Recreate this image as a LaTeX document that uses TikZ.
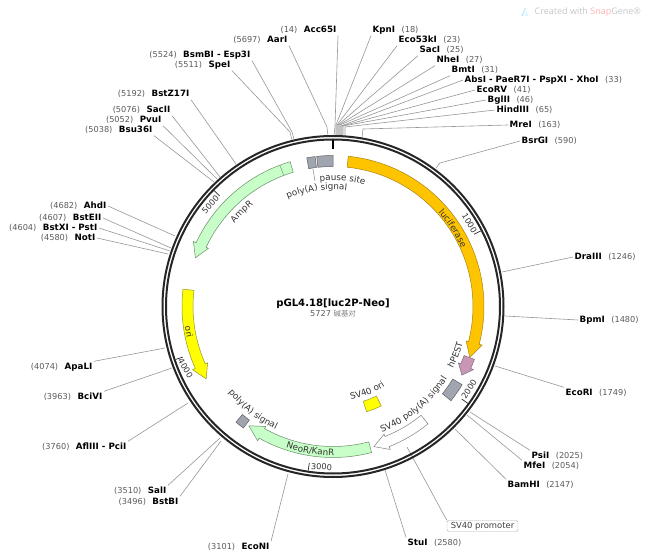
\documentclass[tikz,border=0pt]{standalone}
\usepackage{fontspec}
\setmainfont{DejaVu Sans}
\newfontfamily\cjkf{Noto Sans CJK SC}
\newfontfamily\markf{Open Sans}
\usetikzlibrary{decorations.text}
\definecolor{lucif}{RGB}{255,196,0}
\definecolor{lucifline}{RGB}{170,130,20}
\definecolor{oriyel}{RGB}{255,255,0}
\definecolor{oriline}{RGB}{150,150,40}
\definecolor{resist}{RGB}{200,255,200}
\definecolor{resistline}{RGB}{105,140,105}
\definecolor{pest}{RGB}{202,150,182}
\definecolor{pestline}{RGB}{120,110,120}
\definecolor{sigbox}{RGB}{160,165,176}
\definecolor{sigline}{RGB}{95,95,100}
\definecolor{cutline}{RGB}{150,150,150}
\definecolor{numgray}{RGB}{90,90,90}
\newcommand{\numf}{\fontsize{8.2}{9}\selectfont\color{numgray}}
\newcommand{\labf}{\fontsize{8.7}{9}\selectfont\bfseries}
\newcommand{\featf}{\fontsize{8.8}{9}\selectfont\color{black!80}}
\newcommand{\featarrow}[4]{\draw [#1] (#2:140) arc[start angle=#2,end angle=#3,radius=140] -- (#3:137.5) -- (#4:146) -- (#3:154) -- (#3:151) arc[start angle=#3,end angle=#2,radius=151] -- cycle;}
\newcommand{\featbox}[5]{\draw [#1] (#2:#4) arc[start angle=#2,end angle=#3,radius=#4] -- (#3:#5) arc[start angle=#3,end angle=#2,radius=#5] -- cycle;}
\newcommand{\arctext}[4]{\path [decorate,decoration={text along path,text align=center,text={|\featf|#4}}] (#1:#3) arc[start angle=#1,end angle=#2,radius=#3];}
\tikzset{
  cutlabel/.style={inner sep=1.5pt,text height=6.5pt,text depth=1.5pt},
  cutwire/.style={cutline,line width=0.6pt},
  ticklabel/.style={inner sep=0pt,font=\fontsize{8.2}{9}\selectfont,text=black!80},
  greenfeat/.style={fill=resist,draw=resistline,line width=0.5pt},
  greyfeat/.style={fill=sigbox,draw=sigline,line width=0.5pt},
}
\begin{document}
\begin{tikzpicture}[x=1pt,y=-1pt]
\useasboundingbox (0,0) rectangle (649,559);
\foreach \nm/\lx/\ly/\st/\ex/\ey/\rx/\ry/\txt/\num in {
  Accfive/338/30/south east/335/126/334/136/Acc65I/14,
  AarI/289/40/south east/327/127/328/136/AarI/5697,
  BsmBI/252/55/south east/292/132/294/139/BsmBI - Esp3I/5524,
  SpeI/232/65/south east/290/132/292/140/SpeI/5511,
  BstZ/191/94/south east/236/164/236/164/BstZ17I/5192,
  SacII/172/110/south east/220/177/220/177/SacII/5076,
  PvuI/163/120/south east/217/179/217/179/PvuI/5052,
  Bsuthree/154/130/south east/214/182/214/182/Bsu36I/5038,
  AhdI/108/206/east/175/236/175/236/AhdI/4682,
  BstEII/103/218/east/171/248/171/248/BstEII/4607,
  BstXI/99/228/east/170/251/170/251/BstXI - PstI/4604,
  NotI/97/238/east/168/254/168/254/NotI/4580,
  ApaLI/94/367/north east/165/348/165/348/ApaLI/4074,
  BciVI/104/397/north east/172/368/172/368/BciVI/3963,
  AflIII/128/447/north east/188/403/188/403/AflIII - PciI/3760,
  SalI/168/491/north east/220/438/220/438/SalI/3510,
  BstBI/180/502/north east/221/441/221/441/BstBI/3496,
  EcoNI/271/547/north east/288/474/288/474/EcoNI/3101}
{
  \node [cutlabel,anchor=east] (\nm) at (\lx,\ly) {{\numf(\num)}\hspace{6.5pt}{\labf\txt}};
  \coordinate (bend\nm) at (\ex,\ey);
  \coordinate (site\nm) at (\rx,\ry);
  \draw [cutwire] (\nm.\st) -- (bend\nm) -- (site\nm);
}
\foreach \nm/\lx/\ly/\st/\ex/\ey/\rx/\ry/\txt/\num in {
  KpnI/371/30/south west/336/125/336/137/KpnI/18,
  Ecofive/397/40/south west/337/125/337/137/Eco53kI/23,
  SacI/418/50/south west/338/125/338/137/SacI/25,
  NheI/435/60/south west/339/125/339/137/NheI/27,
  BmtI/450/70/south west/340/125/340/137/BmtI/31,
  AbsI/463/80/west/341/126/341/137/AbsI - PaeR7I - PspXI - XhoI/33,
  EcoRV/475/90/west/342/126/342/137/EcoRV/41,
  BglII/486/100/west/343/126/343/137/BglII/46,
  HindIII/495/110/west/345/127/345/137/HindIII/65,
  MreI/508/125/west/363/129/362/138/MreI/163,
  BsrGI/520/141/west/440/163/436/168/BsrGI/590,
  DraIII/573/257/west/502/272/502/272/DraIII/1246,
  BpmI/578/320/west/505/316/505/316/BpmI/1480,
  EcoRI/564/393/north west/495/366/495/366/EcoRI/1749,
  PsiI/530/456/north west/470/412/470/412/PsiI/2025,
  MfeI/522/466/north west/467/415/467/415/MfeI/2054,
  BamHI/506/485/north west/455/429/455/429/BamHI/2147,
  StuI/406/543/north west/385/470/385/470/StuI/2580}
{
  \node [cutlabel,anchor=west] (\nm) at (\lx,\ly) {{\labf\txt}\hspace{6.5pt}{\numf(\num)}};
  \coordinate (bend\nm) at (\ex,\ey);
  \coordinate (site\nm) at (\rx,\ry);
  \draw [cutwire] (\nm.\st) -- (bend\nm) -- (site\nm);
}
\node [draw=black!30,rounded corners=1.5pt,inner sep=1pt,minimum width=71pt,minimum height=11pt,font=\fontsize{8.4}{9}\selectfont,text=black!75] (promoter) at (482.5,526) {SV40 promoter};
\coordinate (promosite) at (407,447);
\draw [cutwire] (promoter.north west) -- (promosite);
\coordinate (polysite) at (315,181);
\coordinate (polybox) at (313,169);
\draw [cutwire] (polybox) -- (polysite);
\begin{scope}[shift={(333,306.5)},y=1pt]
\draw [black!85,line width=2pt] (0,0) circle (170.5);
\draw [black!85,line width=2pt] (0,0) circle (167);
\draw [black,line width=1.6pt] (90:166) -- (90:157);
\featarrow{fill=lucif,draw=lucifline,line width=0.5pt}{84.2}{-14.5}{-20.4}
\featarrow{fill=pest,draw=pestline,line width=0.5pt}{-20.5}{-24.2}{-28}
\featarrow{fill=white,draw=black!50,line width=0.5pt}{-51}{-68.2}{-73.7}
\featarrow{greenfeat}{-75.2}{-119.3}{-125.2}
\featarrow{fill=oriyel,draw=oriline,line width=0.5pt}{173.4}{204.2}{209.7}
\featarrow{greenfeat}{106.5}{155}{160.5}
\draw [resistline,line width=0.4pt] (110.6:140) -- (110.6:151);
\featbox{greyfeat}{-31.2}{-38.6}{140}{151}
\featbox{greyfeat}{230}{233.6}{141}{151}
\featbox{greyfeat}{96.8}{100}{140}{151}
\featbox{greyfeat}{90}{96.2}{140}{151}
\featbox{fill=oriyel,draw=oriline,line width=0.5pt}{-72.3}{-64.1}{99.5}{110.5}
\foreach \tk/\ang in {1000/27.1,2000/-35.7,3000/-98.6,4000/-161.4,5000/135.7}
  \draw [black!85,line width=0.7pt] (\ang:166) -- (\ang:158.5);
\arctext{113}{83}{117}{poly(A) signal}
\arctext{96.4}{75}{126}{pause site}
\arctext{42}{24}{141}{luciferase}
\arctext{140}{128}{129}{AmpR}
\arctext{187}{193}{149.5}{ori}
\arctext{218.5}{246}{135.5}{poly(A) signal}
\arctext{251}{271}{149}{NeoR/KanR}
\arctext{-80}{-56}{95}{SV40 ori}
\arctext{-69}{-32}{135}{SV40 poly(A) signal}
\arctext{-28}{-15}{135}{hPEST}
\end{scope}
\foreach \tk/\lx/\ly/\rot in {1000/469.5/223/-59,2000/469/389/57,3000/321.5/467/-3,4000/185.5/368.5/-60,5000/210.5/204.5/48}
  \node [ticklabel,rotate=\rot] (tick\tk) at (\lx,\ly) {\tk};
\node [inner sep=0pt,font=\fontsize{10.1}{11}\selectfont\bfseries] (plasmid) at (333,304) {pGL4.18[luc2P-Neo]};
\node [inner sep=0pt,font=\fontsize{8.2}{9}\selectfont,text=numgray] (size) at (333,314) {5727 {\cjkf\fontsize{7.4}{9}\selectfont\color{black!50}碱基对}};
\fill [blue!30!cyan!25!white] (521,16) -- (525,8) -- (526,8) -- (523,16) -- cycle;
\fill [blue!30!cyan!15!white] (525,16) -- (526.5,11) -- (528,16) -- cycle;
\node [anchor=west,inner sep=0pt,font=\markf\fontsize{9}{10}\selectfont,text=black!22] (mark) at (534.5,12) {Created with {\color{red!30}Snap}Gene®};
\end{tikzpicture}
\end{document}
